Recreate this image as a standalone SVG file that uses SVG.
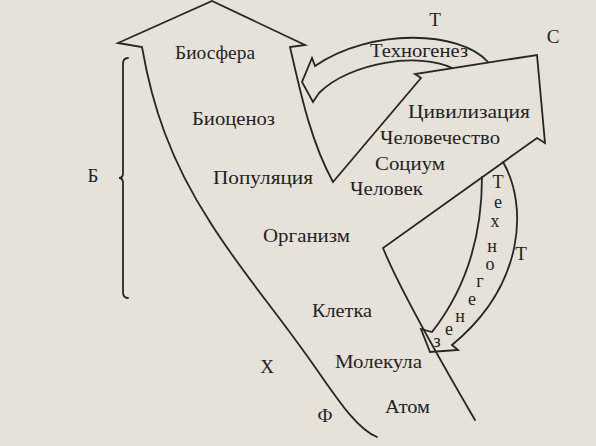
<svg xmlns="http://www.w3.org/2000/svg" width="596" height="446" viewBox="0 0 596 446">
<style>
.ln{fill:none;stroke:#262626;stroke-width:1.8;stroke-linejoin:miter;stroke-linecap:round}
.t{font-family:"Liberation Serif","Times New Roman",serif;font-size:19px;fill:#232323}
.c{text-anchor:middle}
.v{font-family:"Liberation Serif","Times New Roman",serif;font-size:18px;fill:#232323;text-anchor:middle}
</style>
<rect width="596" height="446" fill="#e6e2da"/>
<g id="connectors">
<path id="main-band" class="ln" d="M377,437 C355,428 335,395 310,360 C275,310 240,270 210,222 C170,160 152,105 142,47 L118,43 L212,1 L305,45 L290,47 C300,90 310,140 333,182 L421,78 L415,74 L537,55 L545,143 L537,138 L383,248 C400,290 440,360 475,420"/>
<path id="technogenesis-top" class="ln" d="M488,62 C460,30 370,28 315,66 L312,58 L302,82 L313,102 L319,93 C350,62 420,52 452,68"/>
<path id="technogenesis-right" class="ln" d="M503,162 C528,205 525,285 452,345 L458,350 L430,352 L421,329 L432,332 C465,290 482,240 482,177"/>
<path id="brace" class="ln" stroke-width="1.3" d="M128,58 Q123,58 123,64 L123,173 Q123,178 119,178 Q123,178 123,183 L123,292 Q123,298 128,298"/>
</g>
<g id="n-biosphere"><text class="t" x="175" y="59" textLength="80" lengthAdjust="spacingAndGlyphs">Биосфера</text></g>
<g id="n-biocenosis"><text class="t" x="192" y="125" textLength="83" lengthAdjust="spacingAndGlyphs">Биоценоз</text></g>
<g id="n-population"><text class="t" x="213" y="184" textLength="100" lengthAdjust="spacingAndGlyphs">Популяция</text></g>
<g id="n-organism"><text class="t" x="263" y="242" textLength="87" lengthAdjust="spacingAndGlyphs">Организм</text></g>
<g id="n-cell"><text class="t" x="312" y="317" textLength="60" lengthAdjust="spacingAndGlyphs">Клетка</text></g>
<g id="n-molecule"><text class="t" x="335" y="368" textLength="87" lengthAdjust="spacingAndGlyphs">Молекула</text></g>
<g id="n-atom"><text class="t" x="385" y="413" textLength="45" lengthAdjust="spacingAndGlyphs">Атом</text></g>
<g id="n-human"><text class="t" x="350" y="195" textLength="73" lengthAdjust="spacingAndGlyphs">Человек</text></g>
<g id="n-socium"><text class="t" x="375" y="170" textLength="70" lengthAdjust="spacingAndGlyphs">Социум</text></g>
<g id="n-humanity"><text class="t" x="380" y="144" textLength="120" lengthAdjust="spacingAndGlyphs">Человечество</text></g>
<g id="n-civilization"><text class="t" x="408" y="118" textLength="122" lengthAdjust="spacingAndGlyphs">Цивилизация</text></g>
<g id="n-technogenesis-top"><text class="t" x="370" y="57" textLength="98" lengthAdjust="spacingAndGlyphs">Техногенез</text></g>
<g id="n-T-top"><text class="t c" x="435" y="26">Т</text></g>
<g id="n-S"><text class="t c" x="553" y="43">С</text></g>
<g id="n-B"><text class="t c" x="93" y="182">Б</text></g>
<g id="n-X"><text class="t c" x="267" y="373">Х</text></g>
<g id="n-F"><text class="t c" x="325" y="422">Ф</text></g>
<g id="n-T-right"><text class="t c" x="521" y="260">Т</text></g>
<g id="n-technogenesis-right">
<text class="v" x="498" y="188">Т</text>
<text class="v" x="498" y="208">е</text>
<text class="v" x="495" y="227">х</text>
<text class="v" x="492" y="252">н</text>
<text class="v" x="490" y="270">о</text>
<text class="v" x="480" y="287">г</text>
<text class="v" x="472" y="305">е</text>
<text class="v" x="460" y="322">н</text>
<text class="v" x="449" y="335">е</text>
<text class="v" x="437" y="347">з</text>
</g>
</svg>
